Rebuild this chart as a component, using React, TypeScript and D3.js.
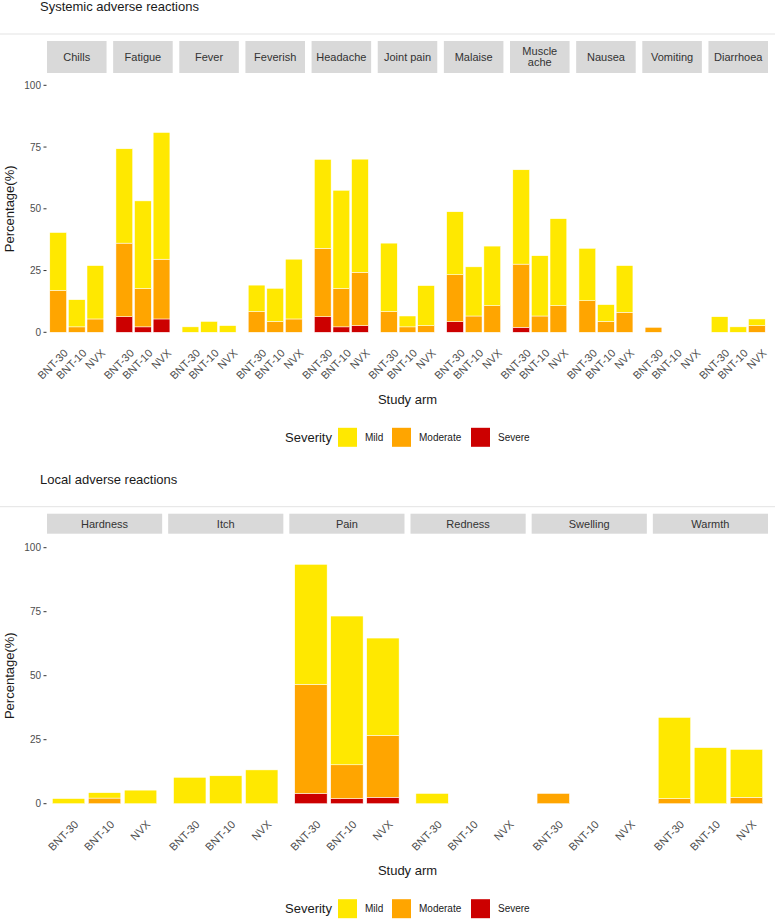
import React from 'react';
import * as d3 from 'd3';

// study arms and severity levels
const arms = ['BNT-30', 'BNT-10', 'NVX'];
const severityKeys = ['Severe', 'Moderate', 'Mild'];
const legendKeys = ['Mild', 'Moderate', 'Severe'];
const severityColors: Record<string, string> = {
  Mild: '#FFE800',
  Moderate: '#FFA500',
  Severe: '#CC0000',
};
const yTicks = [0, 25, 50, 75, 100];

// systemic reactions, values per arm [BNT-30, BNT-10, NVX] in %
const systemicSymptoms = ['Chills', 'Fatigue', 'Fever', 'Feverish', 'Headache', 'Joint pain', 'Malaise', 'Muscle\nache', 'Nausea', 'Vomiting', 'Diarrhoea'];
const systemicMild = [
  [23.4, 11.0, 21.6], [38.2, 35.5, 51.3], [2.2, 4.4, 2.7], [10.7, 13.4, 24.2],
  [36.0, 39.8, 45.8], [27.7, 4.4, 16.2], [25.5, 19.9, 24.1], [38.2, 24.4, 35.2],
  [21.2, 6.8, 18.9], [0, 0, 0], [6.3, 2.2, 2.7],
];
const systemicModerate = [
  [17.0, 2.2, 5.4], [29.8, 15.5, 24.2], [0, 0, 0], [8.4, 4.4, 5.4],
  [27.7, 15.5, 21.6], [8.4, 2.2, 2.7], [19.0, 6.6, 10.8], [25.6, 6.6, 10.8],
  [12.8, 4.4, 8.1], [2.0, 0, 0], [0, 0, 2.7],
];
const systemicSevere = [
  [0, 0, 0], [6.3, 2.2, 5.4], [0, 0, 0], [0, 0, 0],
  [6.3, 2.2, 2.7], [0, 0, 0], [4.3, 0, 0], [2.0, 0, 0],
  [0, 0, 0], [0, 0, 0], [0, 0, 0],
];

// local reactions
const localSymptoms = ['Hardness', 'Itch', 'Pain', 'Redness', 'Swelling', 'Warmth'];
const localMild = [
  [2.0, 2.1, 5.3], [10.3, 10.9, 13.2], [46.9, 58.1, 38.0], [4.0, 0, 0], [0, 0, 0], [31.7, 21.9, 18.7],
];
const localModerate = [
  [0, 2.2, 0], [0, 0, 0], [42.6, 13.2, 24.2], [0, 0, 0], [4.0, 0, 0], [2.0, 0, 2.5],
];
const localSevere = [
  [0, 0, 0], [0, 0, 0], [4.0, 2.0, 2.5], [0, 0, 0], [0, 0, 0], [0, 0, 0],
];

const font = '"Liberation Sans", Arial, sans-serif';

interface PanelProps {
  title: string;
  symptoms: string[];
  mild: number[][];
  moderate: number[][];
  severe: number[][];
  top: number;        // y of panel title block
  stripH: number;
  y100: number;
  y0: number;
}

const Panel: React.FC<PanelProps> = ({ title, symptoms, mild, moderate, severe, top, stripH, y100, y0 }) => {
  const left = 47;
  const right = 768;
  const gap = symptoms.length > 6 ? 6.6 : 6;
  const facetW = (right - left - gap * (symptoms.length - 1)) / symptoms.length;

  const y = d3.scaleLinear().domain([0, 100]).range([y0, y100]);
  const x = d3.scaleBand<string>().domain(arms).range([0, facetW]).paddingInner(0.1).paddingOuter(0.15);
  const stack = d3.stack<any>().keys(severityKeys);

  const stripTop = top + 41;
  const midX = (left + right) / 2;

  const legendY = y0 + 105;
  const legendX = 285;

  return (
    <g>
      <text x={40} y={top + 11} fontSize={13} fill="#1a1a1a">{title}</text>
      <line x1={0} x2={775} y1={top + 34} y2={top + 34} stroke="#e3e3e3" strokeWidth={1} />

      {/* y axis */}
      {yTicks.map(t => (
        <g key={t}>
          <text x={41} y={y(t)} dy="0.35em" textAnchor="end" fontSize={10} fill="#4d4d4d">{t}</text>
          <line x1={43.5} x2={46.5} y1={y(t)} y2={y(t)} stroke="#333" strokeWidth={1} />
        </g>
      ))}
      <text transform={`translate(14,${(y0 + y100) / 2}) rotate(-90)`} textAnchor="middle" fontSize={13} fill="#1a1a1a">Percentage(%)</text>

      {symptoms.map((s, i) => {
        const fx = left + i * (facetW + gap);
        const rows = arms.map((a, j) => ({
          arm: a,
          Mild: mild[i][j],
          Moderate: moderate[i][j],
          Severe: severe[i][j],
        }));
        const series = stack(rows);
        const lines = s.split('\n');
        return (
          <g key={s} transform={`translate(${fx},0)`}>
            <rect x={0} y={stripTop} width={facetW} height={stripH} fill="#d9d9d9" />
            {lines.map((ln, k) => (
              <text key={k} x={facetW / 2} y={stripTop + stripH / 2 + (k - (lines.length - 1) / 2) * 11}
                dy="0.35em" textAnchor="middle" fontSize={11} fill="#333">{ln}</text>
            ))}
            {series.map(ser => (
              <g key={ser.key} fill={severityColors[ser.key]}>
                {ser.map((d, j) => d[1] - d[0] > 0 ? (
                  <rect key={j} x={x(arms[j])} y={y(d[1])} width={x.bandwidth()} height={y(d[0]) - y(d[1])}
                    stroke="#fff" strokeWidth={0.5} />
                ) : null)}
              </g>
            ))}
            {arms.map(a => (
              <text key={a} transform={`translate(${(x(a) as number) + x.bandwidth() / 2 + 5},${y0 + 16}) rotate(-45)`}
                textAnchor="end" dy="0.7em" fontSize={11} fill="#4d4d4d">{a}</text>
            ))}
          </g>
        );
      })}

      <text x={midX} y={y0 + 67} dy="0.35em" textAnchor="middle" fontSize={13} fill="#1a1a1a">Study arm</text>

      {/* legend */}
      <g>
        <text x={legendX} y={legendY} dy="0.35em" fontSize={13} fill="#1a1a1a">Severity</text>
        {legendKeys.map((k, i) => {
          const kx = [338, 392, 471][i];
          return (
            <g key={k}>
              <rect x={kx} y={legendY - 9.5} width={19} height={19} fill={severityColors[k]} />
              <text x={kx + 27} y={legendY} dy="0.35em" fontSize={10} fill="#1a1a1a">{k}</text>
            </g>
          );
        })}
      </g>
    </g>
  );
};

export default function App() {
  return (
    <div style={{ position: 'absolute', left: 0, top: 0, background: '#fff' }}>
      <svg width={776} height={922} style={{ fontFamily: font, display: 'block' }}>
        <rect width={776} height={922} fill="#fff" />
        <Panel title="Systemic adverse reactions" symptoms={systemicSymptoms}
          mild={systemicMild} moderate={systemicModerate} severe={systemicSevere}
          top={0} stripH={32} y100={85.3} y0={332.3} />
        <Panel title="Local adverse reactions" symptoms={localSymptoms}
          mild={localMild} moderate={localModerate} severe={localSevere}
          top={472.7} stripH={20} y100={547.7} y0={803.7} />
      </svg>
    </div>
  );
}
